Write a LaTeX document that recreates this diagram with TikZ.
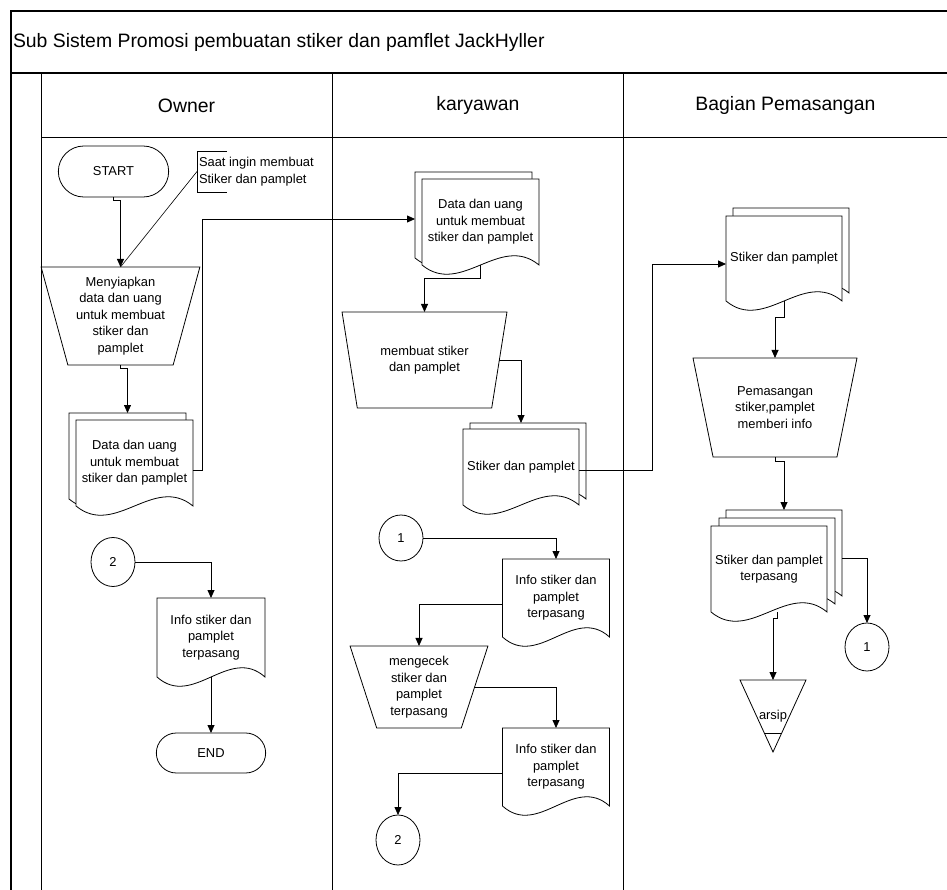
\documentclass[tikz,border=0pt]{standalone}
\usepackage{fontspec}
\setmainfont{Liberation Sans}
\usetikzlibrary{shapes.geometric,shapes.misc,arrows.meta,backgrounds,calc}

\newcommand{\halaman}[2]{%
	\draw[line width=0.8pt, fill=white] let \p1=([shift={#1}]#2.south west), \p2=([shift={#1}]#2.south east), \n1={(\x2-\x1)/3} in
		([shift={#1}]#2.north west) -- ([shift={#1}]#2.north east) -- (\p2)
		.. controls +({-\n1},-32) and +({\n1},32) .. (\p1) -- cycle;}

\begin{document}
\begin{tikzpicture}[x=1pt, y=-1pt,
		every node/.style = {font=\fontsize{12.9}{16.5}\selectfont, align=center, outer sep=0pt},
		judul/.style = {font=\fontsize{19.4}{23}\selectfont},
		terminal/.style = {rounded rectangle, draw, line width=0.8pt, minimum width=117pt},
		proses/.style = {trapezium, trapezium stretches=true, shape border rotate=180,
			trapezium left angle=#1, trapezium right angle=#1, draw, line width=0.8pt},
		dokumen/.style = {rectangle, inner sep=2pt},
		sambung/.style = {ellipse, draw, line width=0.8pt, minimum width=44pt, inner sep=0pt},
		panah/.style = {line width=0.8pt, -{Triangle[length=8pt,width=7pt]}},
		lajur/.style = {line width=1pt},
		bingkai/.style = {line width=1.5pt}]
	\useasboundingbox (0,0) rectangle (947,890);
	\draw[bingkai] (947,11) -- (11,11) -- (11,890);
	\draw[bingkai] (11,73) -- (947,73);
	\draw[lajur] (41,73) -- (41,890);
	\draw[lajur] (332,73) -- (332,890);
	\draw[lajur] (623,73) -- (623,890);
	\draw[lajur] (41,138) -- (947,138);
	\node[judul, anchor=west, inner sep=1pt] (judul) at (12,42) {Sub Sistem Promosi pembuatan stiker dan pamflet JackHyller};
	\node[judul] (owner) at (186.5,105.5) {Owner};
	\node[judul] (karyawan) at (478,105.5) {karyawan};
	\node[judul] (bagian) at (785.5,105.5) {Bagian Pemasangan};

	\node[terminal, minimum height=51pt] (start) at (113.5,171.5) {START};
	\node[anchor=west, align=left, inner sep=2pt, minimum height=41pt] (catatan) at (197,171.5) {Saat ingin membuat\\Stiker dan pamplet};
	\node[proses=74, minimum width=159pt, minimum height=98pt] (siapkan) at (120.5,316) {Menyiapkan\\data dan uang\\untuk membuat\\stiker dan\\pamplet};
	\node[dokumen, minimum width=117pt, minimum height=86pt] (dataO) at (134.5,463) {Data dan uang\\untuk membuat\\stiker dan pamplet};
	\node[sambung, minimum height=49pt] (duaO) at (113,562) {2};
	\node[dokumen, minimum width=108pt, minimum height=79pt] (infoO) at (211,637.5) {Info stiker dan\\pamplet\\terpasang};
	\node[terminal, minimum width=116pt, minimum height=40pt] (selesai) at (211,753) {END};

	\node[dokumen, minimum width=117pt, minimum height=86pt] (dataK) at (480.5,222) {Data dan uang\\untuk membuat\\stiker dan pamplet};
	\node[proses=73, minimum width=165pt, minimum height=96pt] (buat) at (424.5,360) {membuat stiker\\dan pamplet};
	\node[dokumen, minimum width=116pt, minimum height=76pt] (stikK) at (521,467) {Stiker dan pamplet};
	\node[sambung, minimum height=46pt] (satuK) at (401,538) {1};
	\node[dokumen, minimum width=107pt, minimum height=78pt] (infoK1) at (556,598) {Info stiker dan\\pamplet\\terpasang};
	\node[proses=73, minimum width=138pt, minimum height=82pt] (cek) at (419,687) {mengecek\\stiker dan\\pamplet\\terpasang};
	\node[dokumen, minimum width=107pt, minimum height=78pt] (infoK2) at (556,767) {Info stiker dan\\pamplet\\terpasang};
	\node[sambung, minimum height=50pt] (duaK) at (398,840) {2};

	\node[dokumen, minimum width=116pt, minimum height=85pt] (stikB) at (784,258.5) {Stiker dan pamplet};
	\node[proses=74, minimum width=164pt, minimum height=99pt] (pasang) at (775,407.5) {Pemasangan\\stiker,pamplet\\memberi info};
	\node[dokumen, minimum width=116pt, minimum height=86pt] (terpasang) at (769,569) {Stiker dan pamplet\\terpasang};
	\node[sambung, minimum height=48pt] (satuB) at (867,647) {1};
	\coordinate (arsipatas) at (773,680);
	\draw[line width=0.8pt] (740,680) -- (806,680) -- (773,752) -- cycle;
	\draw[line width=0.8pt] (764.3,733) -- (781.7,733);
	\node[inner sep=1pt] (arsip) at (773,716) {arsip};

	\begin{scope}[on background layer]
		\halaman{(-7,-7)}{dataO}
		\halaman{(0,0)}{dataO}
		\halaman{(0,0)}{infoO}
		\halaman{(-7,-7)}{dataK}
		\halaman{(0,0)}{dataK}
		\halaman{(7,-6)}{stikK}
		\halaman{(0,0)}{stikK}
		\halaman{(0,0)}{infoK1}
		\halaman{(0,0)}{infoK2}
		\halaman{(7,-8)}{stikB}
		\halaman{(0,0)}{stikB}
		\halaman{(15,-16)}{terpasang}
		\halaman{(8,-8)}{terpasang}
		\halaman{(0,0)}{terpasang}
	\end{scope}

	\draw[line width=0.8pt] ([xshift=30pt]catatan.north west) -- (catatan.north west) -- (catatan.south west) -- ([xshift=30pt]catatan.south west);
	\draw[line width=0.6pt] (catatan.west) -- (siapkan.north);
	\draw[panah] (start.south) -- ++(0,3) -| (siapkan.north);
	\draw[panah] (siapkan.south) -- ++(0,3) -| ([shift={(-7,-7)}]dataO.north);
	\draw[panah] ([yshift=-7pt]dataO.east) -- ++(9,0) |- ([shift={(-7,-3)}]dataK.west);
	\draw[panah] (duaO.east) -| (infoO.north);
	\draw[panah] (infoO.south) -- (selesai.north);

	\draw[panah] (dataK.south) -- ++(0,13) -| (buat.north);
	\draw[panah] (buat.east) -| ([yshift=6pt]stikK.north);
	\draw[panah] ([yshift=-3pt]stikK.east) -- ++(73,0) |- ([yshift=-5.5pt]stikB.west);
	\draw[panah] (satuK.east) -| (infoK1.north);
	\draw[panah] ([yshift=-6pt]infoK1.west) -| (cek.north);
	\draw[panah] (cek.east) -| (infoK2.north);
	\draw[panah] ([yshift=-6pt]infoK2.west) -| (duaK.north);

	\draw[panah] (stikB.south) -- ++(0,16) -| (pasang.north);
	\draw[panah] (pasang.south) -- ++(0,4) -| ([shift={(15,-16)}]terpasang.north);
	\draw[panah] ([shift={(15,-11)}]terpasang.east) -| (satuB.north);
	\draw[panah] ([xshift=8pt]terpasang.south) -- ++(0,6) -| (arsipatas);
\end{tikzpicture}
\end{document}
